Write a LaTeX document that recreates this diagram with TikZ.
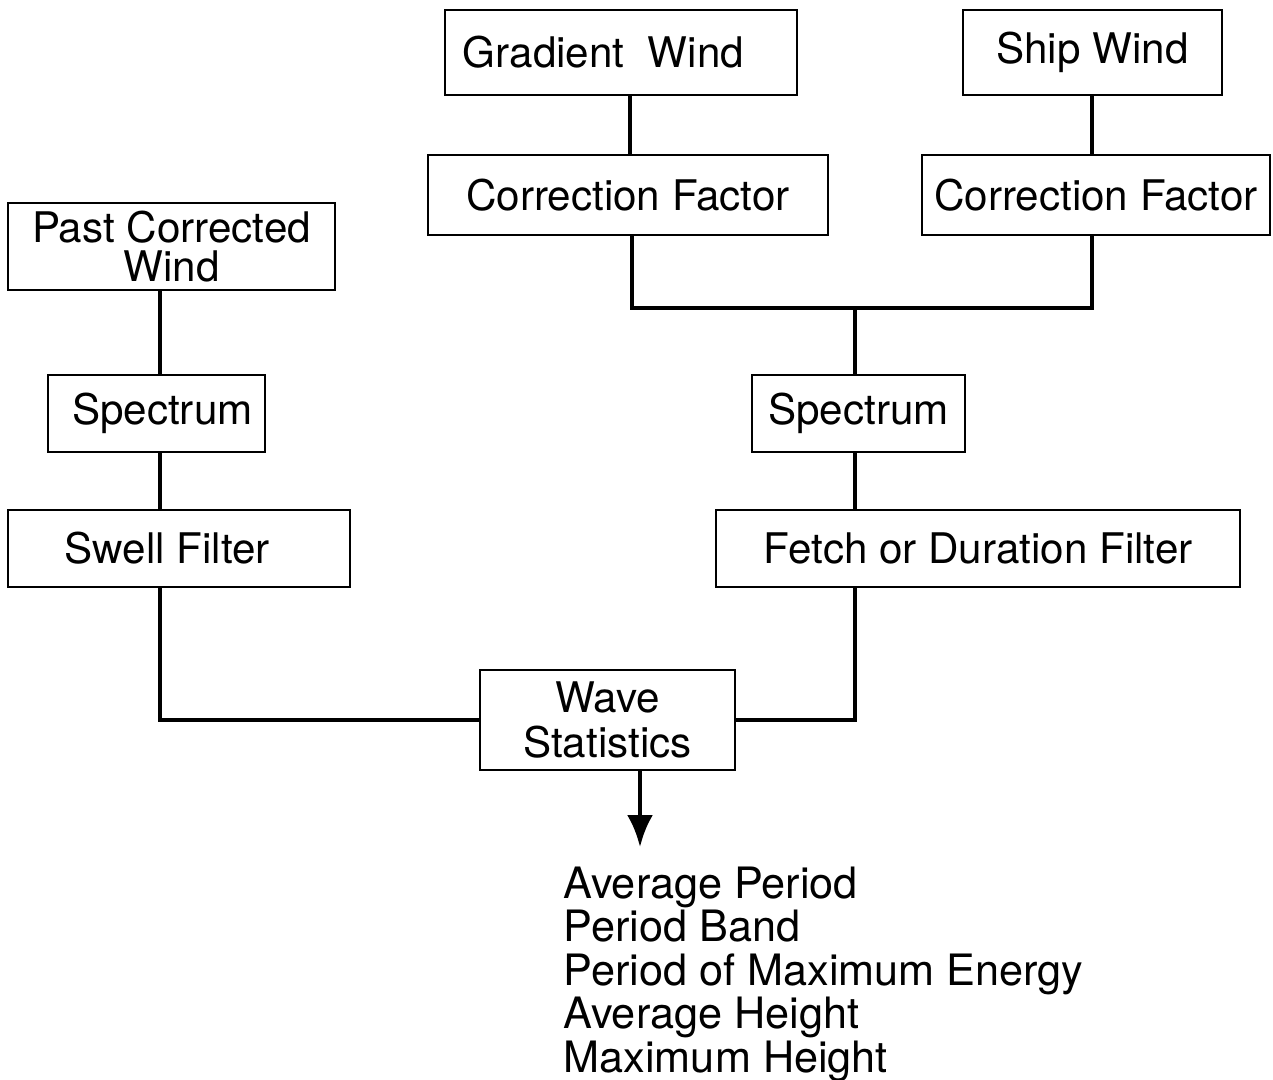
\documentclass[tikz,border=0pt]{standalone}
\usepackage{fontspec}
\setmainfont{TeX Gyre Heros}
\usetikzlibrary{arrows.meta}

\begin{document}
\begin{tikzpicture}[>={Latex[length=3.2mm,width=2.6mm]},font=\fontsize{12}{13}\selectfont,
  box/.style={draw,line width=0.8pt,inner sep=0pt,align=center},
  link/.style={line width=1.3pt}]
\fill[white] (0,0) rectangle (12.73,-10.79);
\useasboundingbox (0,0) rectangle (12.73,-10.79);
\node[box,minimum width=3.52cm,minimum height=0.85cm] (gw) at (6.21,-0.525) {Gradient\ \ Wind\ \ \ };
\node[box,minimum width=2.59cm,minimum height=0.85cm] (sw) at (10.925,-0.525) {Ship\ Wind};
\node[box,minimum width=4.00cm,minimum height=0.80cm] (cfl) at (6.28,-1.95) {Correction\ Factor};
\node[box,minimum width=3.48cm,minimum height=0.80cm] (cfr) at (10.96,-1.95) {Correction Factor};
\node[box,minimum width=3.27cm,minimum height=0.87cm,font=\fontsize{12}{11}\selectfont] (pcw) at (1.715,-2.465) {Past Corrected\\Wind};
\node[box,minimum width=2.17cm,minimum height=0.77cm] (spl) at (1.565,-4.135) {\ Spectrum};
\node[box,minimum width=2.13cm,minimum height=0.77cm] (spr) at (8.585,-4.135) {Spectrum};
\node[box,minimum width=3.42cm,minimum height=0.77cm] (swf) at (1.79,-5.485) {Swell\ Filter\ \ };
\node[box,minimum width=5.24cm,minimum height=0.77cm] (fdf) at (9.78,-5.485) {Fetch\ or\ Duration\ Filter};
\node[box,minimum width=2.55cm,minimum height=1.00cm,font=\fontsize{12}{13}\selectfont] (ws) at (6.075,-7.20) {Wave\\Statistics};
\node[anchor=north west,align=left,inner sep=0pt,font=\fontsize{12.3}{12.4}\selectfont] (out) at (5.63,-8.66)
  {Average Period\\Period Band\\Period of Maximum Energy\\Average Height\\Maximum Height};
\coordinate (jr) at (8.55,-3.08);
\coordinate (jl) at (1.60,-7.16);
\coordinate (tip) at (6.40,-8.47);
\draw[link] (6.30,0 |- gw.south) -- (6.30,0 |- cfl.north);
\draw[link] (10.92,0 |- sw.south) -- (10.92,0 |- cfr.north);
\draw[link] (6.32,0 |- cfl.south) |- (jr) -| (10.92,0 |- cfr.south);
\draw[link] (jr) -- (jr |- spr.north);
\draw[link] (jr |- spr.south) -- (jr |- fdf.north);
\draw[link] (jr |- fdf.south) |- (ws.east);
\draw[link] (jl |- pcw.south) -- (jl |- spl.north);
\draw[link] (jl |- spl.south) -- (jl |- swf.north);
\draw[link] (jl |- swf.south) |- (ws.west);
\draw[link,->] (tip |- ws.south) -- (tip);
\end{tikzpicture}
\end{document}
